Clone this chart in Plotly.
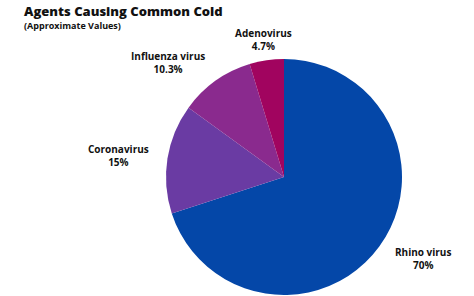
import math
import plotly.graph_objects as go

agents = ["Rhino virus", "Coronavirus", "Influenza virus", "Adenovirus"]
shares = [70, 15, 10.3, 4.7]
share_labels = ["70%", "15%", "10.3%", "4.7%"]
colors = ["#0447a8", "#6a3ba3", "#8a2a8e", "#a1045f"]

# label placement style (radial distance in px from centre, and screen nudges in px)
label_dist = [161, 167, 160, 139]
label_nudge = [(9, -13), (-1, 5), (-23, 16), (0, 0)]

W, H = 474, 296
cx, cy, r = 284, 177, 118

fig = go.Figure(go.Pie(
    labels=agents,
    values=shares,
    textinfo="none",
    sort=False,
    direction="clockwise",
    rotation=0,
    marker=dict(colors=colors, line=dict(width=0)),
    domain=dict(x=[(cx - r) / W, (cx + r) / W], y=[(H - cy - r) / H, (H - cy + r) / H]),
    showlegend=False,
    hoverinfo="skip",
))

annotations = [
    dict(text="Agents Causing Common Cold", x=22 / W, y=1 - 11.5 / H, xref="paper", yref="paper",
         xanchor="left", yanchor="middle", showarrow=False,
         font=dict(family="Open Sans", size=13, color="#111111", weight=800)),
    dict(text="(Approximate Values)", x=22 / W, y=1 - 26 / H, xref="paper", yref="paper",
         xanchor="left", yanchor="middle", showarrow=False,
         font=dict(family="Open Sans", size=9, color="#111111", weight="bold")),
]

total = sum(shares)
cum = 0.0
for name, val, lab, d, (nx, ny) in zip(agents, shares, share_labels, label_dist, label_nudge):
    mid = (cum + val / 2) / total * 2 * math.pi
    cum += val
    px = cx + d * math.sin(mid) + nx
    py = cy - d * math.cos(mid) + ny
    annotations.append(dict(
        text=f"{name}<br>{lab}", x=px / W, y=1 - py / H, xref="paper", yref="paper",
        xanchor="center", yanchor="middle", showarrow=False, align="center",
        font=dict(family="Open Sans", size=10, color="#111111", weight="bold"),
    ))

fig.update_layout(
    width=W, height=H,
    margin=dict(l=0, r=0, t=0, b=0),
    paper_bgcolor="white",
    plot_bgcolor="white",
    annotations=annotations,
)

fig.write_html("out.html")
